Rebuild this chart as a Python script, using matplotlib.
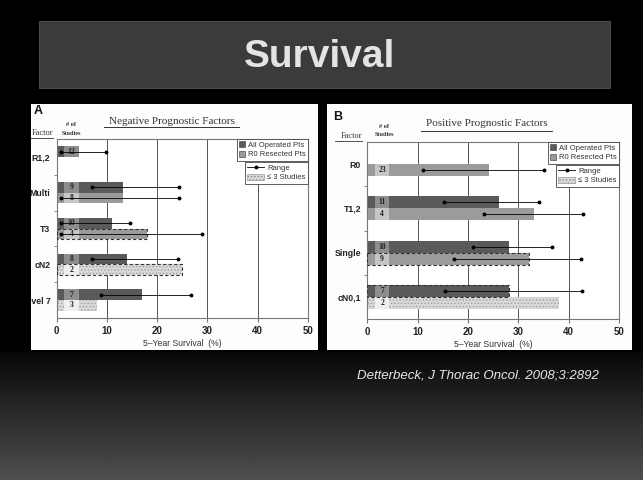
import numpy as np
import matplotlib.pyplot as plt
from matplotlib.patches import Rectangle, Patch
from matplotlib.lines import Line2D

plt.rcParams['font.family'] = ['Liberation Sans', 'DejaVu Sans']
plt.rcParams['hatch.linewidth'] = 0.6

## Panel A - negative prognostic factors (5-year survival, %)
neg_factors = ["R1,2", "Multi", "T3", "cN2", "level 7"]
neg_all     = [4.3, 13.1, 11.1, 14.0, 17.0]
neg_all_n   = [12, 9, 10, 8, 7]
neg_all_lo  = [0.8, 7.1, 0.8, 7.1, 8.8]
neg_all_hi  = [9.9, 24.3, 14.6, 24.2, 26.8]
neg_r0      = [None, 13.1, 18.0, 25.0, 8.1]
neg_r0_n    = [None, 8, 4, 2, 3]
neg_r0_lo   = [None, 0.8, 0.8, None, None]
neg_r0_hi   = [None, 24.3, 28.9, None, None]
neg_dashed  = [None, None, "r0", "r0", None]

## Panel B - positive prognostic factors
pos_factors = ["R0", "T1,2", "Single", "cN0,1"]
pos_all     = [None, 26.2, 28.1, 28.1]
pos_all_n   = [None, 11, 10, 7]
pos_all_lo  = [None, 15.2, 20.9, 15.4]
pos_all_hi  = [None, 34.1, 36.6, 42.6]
pos_r0      = [24.2, 33.2, 32.1, 38.1]
pos_r0_n    = [23, 4, 9, 2]
pos_r0_lo   = [11.0, 23.1, 17.3, None]
pos_r0_hi   = [35.1, 42.8, 42.4, None]
pos_dashed  = [None, None, "r0", "all"]

x_ticks = [0, 10, 20, 30, 40, 50]

DARK, MID, LIGHT = "#5a5a5a", "#9b9b9b", "#d9d9d9"
BOX_DARK, BOX_MID, BOX_LIGHT = "#8e8e8e", "#c6c6c6", "#efefef"

W, H = 643, 480


def px_rect(x0, y0, x1, y1):
    # pixel box (top-left origin) -> figure fraction rect
    return [x0 / W, 1 - y1 / H, (x1 - x0) / W, (y1 - y0) / H]


def draw_panel(ax, factors, series, dashed, bh):
    n = len(factors)
    centers = np.arange(n) + 0.5
    for i, c in enumerate(centers):
        for k, (vals, counts, lo, hi, color, box) in enumerate(series):
            v = vals[i]
            if v is None:
                continue
            y0 = c - bh if k == 0 else c
            if counts[i] <= 3:
                ax.barh(y0, v, height=bh, align='edge', color=LIGHT,
                        edgecolor='#a0a0a0', linewidth=0, hatch='.....', zorder=2)
                bc = BOX_LIGHT
            else:
                ax.barh(y0, v, height=bh, align='edge', color=color, linewidth=0, zorder=2)
                bc = box
            ax.barh(y0, 2.9, left=1.5, height=bh, align='edge', color=bc, linewidth=0, zorder=3)
            ax.text(2.95, y0 + bh / 2, str(counts[i]), ha='center', va='center',
                    fontsize=5.5, fontweight='bold', family='Liberation Serif',
                    color='#222222', zorder=5)
            if dashed[i] == ('all' if k == 0 else 'r0'):
                ax.barh(y0, v, height=bh, align='edge', fill=False, edgecolor='#333333',
                        linestyle=(0, (3, 2)), linewidth=0.8, zorder=4)
            if lo[i] is not None:
                yy = y0 + bh / 2
                ax.plot([lo[i], hi[i]], [yy, yy], color='k', lw=0.6, marker='o',
                        ms=1.8, zorder=6)

    ax.set_xlim(0, 50)
    ax.set_ylim(n, 0)
    ax.set_xticks(x_ticks)
    ax.set_xticklabels([str(t) for t in x_ticks], fontweight='bold')
    ax.set_yticks(centers)
    ax.set_yticklabels(factors, fontsize=6.3, fontweight='bold', color='#222222')
    ax.set_yticks(np.arange(1, n), minor=True)
    ax.tick_params(axis='y', which='major', length=0, pad=4.5)
    ax.tick_params(axis='y', which='minor', length=2, color='#777777')
    ax.tick_params(axis='x', length=3, color='#777777', labelsize=7, pad=3,
                   labelcolor='#222222')
    ax.grid(axis='x', color='#555555', lw=0.7)
    ax.set_axisbelow(True)
    for s in ax.spines.values():
        s.set_color('#777777')
        s.set_linewidth(0.8)
    ax.set_xlabel("5–Year Survival  (%)", fontsize=6.2, color='#333333', labelpad=2)


def add_legends(ax, axes_h):
    kw = dict(fontsize=5.5, frameon=True, fancybox=False, edgecolor='#444444',
              framealpha=1, borderaxespad=0, borderpad=0.3, labelspacing=0.25,
              handletextpad=0.4, labelcolor='#333333')
    h1 = [Patch(facecolor=DARK, edgecolor='#333333', lw=0.4),
          Patch(facecolor=MID, edgecolor='#333333', lw=0.4)]
    leg1 = ax.legend(h1, ["All Operated Pts", "R0 Resected Pts"], loc='upper right',
                     bbox_to_anchor=(1, 1), handlelength=0.8, handleheight=0.8, **kw)
    leg1.get_frame().set_linewidth(0.6)
    ax.add_artist(leg1)
    h2 = [Line2D([], [], color='k', lw=0.6, marker='o', ms=1.8),
          Patch(facecolor=LIGHT, edgecolor='#888888', lw=0.4, hatch='.....')]
    leg2 = ax.legend(h2, ["Range", "≤ 3 Studies"], loc='upper right',
                     bbox_to_anchor=(1, 1 - 23 / axes_h), handlelength=2.2,
                     handleheight=0.8, **kw)
    leg2.get_frame().set_linewidth(0.6)


fig = plt.figure(figsize=(W / 100, H / 100), dpi=100, facecolor='black')

## background: slide graphics drawn in pixel coordinates
bg = fig.add_axes([0, 0, 1, 1], zorder=-1)
bg.set_facecolor('black')
grad = np.linspace(0.03, 0.31, 120)[:, None]
bg.imshow(grad, extent=(0, W, H, 352), cmap='gray', vmin=0, vmax=1, aspect='auto')
bg.set_xlim(0, W)
bg.set_ylim(H, 0)
bg.axis('off')

bg.add_patch(Rectangle((39, 21), 571, 67, facecolor='#3b3b3b', edgecolor='#4a4a4a', lw=0.8))
bg.text(320, 57, "Survival", ha='center', va='center', fontsize=28, fontweight='bold',
        color='#e4e4e4')

bg.add_patch(Rectangle((31, 104), 287, 246, facecolor='#fdfdfd', edgecolor='none'))
bg.add_patch(Rectangle((327, 104), 305, 246, facecolor='#fdfdfd', edgecolor='none'))

bg.text(478, 375, "Detterbeck, J Thorac Oncol. 2008;3:2892", ha='center', va='center',
        fontsize=9.5, style='italic', color='#e8e8e8')

# panel headers
serif = 'Liberation Serif'
bg.text(34, 111, "A", ha='left', va='center', fontsize=9, fontweight='bold', color='#111111')
bg.text(333, 117, "B", ha='left', va='center', fontsize=9, fontweight='bold', color='#111111')
bg.text(172, 121, "Negative Prognostic Factors", ha='center', va='center', fontsize=8,
        family=serif, color='#333333')
bg.plot([104, 239], [127, 127], color='#333333', lw=0.7)
bg.text(487, 124, "Positive Prognostic Factors", ha='center', va='center', fontsize=8,
        family=serif, color='#333333')
bg.plot([421, 552], [131, 131], color='#333333', lw=0.7)
bg.text(53, 133, "Factor", ha='right', va='center', fontsize=6, family=serif, color='#333333')
bg.plot([31, 53], [137.5, 137.5], color='#333333', lw=0.6)
bg.text(362, 136.5, "Factor", ha='right', va='center', fontsize=6, family=serif, color='#333333')
bg.plot([335, 362], [140.5, 140.5], color='#333333', lw=0.6)
for cx, y1, y2 in [(71, 124, 133.5), (384, 126, 134)]:
    bg.text(cx, y1, "# of", ha='center', va='center', fontsize=4.5, fontweight='bold',
            family=serif, color='#333333')
    bg.text(cx, y2, "Studies", ha='center', va='center', fontsize=4.5, fontweight='bold',
            family=serif, color='#333333')

## chart panels
axA = fig.add_axes(px_rect(56.7, 139, 308, 318))
draw_panel(axA, neg_factors,
           [(neg_all, neg_all_n, neg_all_lo, neg_all_hi, DARK, BOX_DARK),
            (neg_r0, neg_r0_n, neg_r0_lo, neg_r0_hi, MID, BOX_MID)],
           neg_dashed, 0.3)
add_legends(axA, 179)

axB = fig.add_axes(px_rect(367.3, 142, 619, 319))
draw_panel(axB, pos_factors,
           [(pos_all, pos_all_n, pos_all_lo, pos_all_hi, DARK, BOX_DARK),
            (pos_r0, pos_r0_n, pos_r0_lo, pos_r0_hi, MID, BOX_MID)],
           pos_dashed, 0.27)
add_legends(axB, 177)

# panel A is cropped on its left edge in the slide
fig.add_artist(Rectangle((0, 1 - 352 / H), 31 / W, 250 / H, transform=fig.transFigure,
                         facecolor='black', edgecolor='none', zorder=10))

fig.savefig("out.png", dpi=100, facecolor='black')
